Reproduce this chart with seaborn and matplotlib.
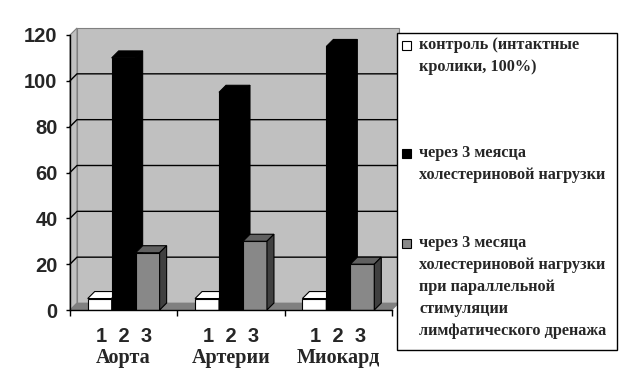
import matplotlib
matplotlib.use('Agg')
import matplotlib.pyplot as plt
from matplotlib.patches import Polygon, Rectangle
import seaborn as sns
import pandas as pd

# data
organs = ['Аорта', 'Артерии', 'Миокард']
series = [
    'контроль (интактные\nкролики, 100%)',
    'через 3 меясца\nхолестериновой нагрузки',
    'через 3 месяца\nхолестериновой нагрузки\nпри параллельной\nстимуляции\nлимфатического дренажа',
]
control = [5, 5, 5]
load_3m = [110, 95, 115]
load_stim = [25, 30, 20]
bar_nums = '1 2 3'
yticks = [0, 20, 40, 60, 80, 100, 120]

front_cols = ['#FFFFFF', '#000000', '#888888']
top_cols = ['#FFFFFF', '#000000', '#606060']
side_cols = ['#FFFFFF', '#000000', '#404040']

df = pd.DataFrame({
    'organ': organs * 3,
    'group': [series[0]] * 3 + [series[1]] * 3 + [series[2]] * 3,
    'value': control + load_3m + load_stim,
})

sns.set_theme(style='white')
plt.rcParams['font.family'] = ['Liberation Sans', 'DejaVu Sans']
serif = ['Liberation Serif', 'DejaVu Serif']

W, H = 620, 384
fig = plt.figure(figsize=(W / 100, H / 100), dpi=100)
ax = fig.add_axes([70 / W, 74 / H, 322 / W, 275 / H])
ax.set_facecolor('none')

sns.barplot(data=df, x='organ', y='value', hue='group', hue_order=series,
            palette=front_cols, width=0.67, gap=0, edgecolor='black',
            linewidth=0.8, saturation=1, legend=False, ax=ax)
ax.set_xlim(-0.5, 2.5)
ax.set_ylim(0, 120)

# depth of the 3d effect in data units (about 7 px)
px_x = ax.transData.transform((1, 0))[0] - ax.transData.transform((0, 0))[0]
px_y = ax.transData.transform((0, 1))[1] - ax.transData.transform((0, 0))[1]
dx, dy = 7 / px_x, 7 / px_y
bx, by = 7 / px_x, 7 / px_y
x0, x1 = ax.get_xlim()

# back wall, side wall, floor
ax.add_patch(Polygon([(x0 + dx, dy), (x1 + dx, dy), (x1 + dx, 120 + dy), (x0 + dx, 120 + dy)],
                     closed=True, fc='#C0C0C0', ec='#808080', lw=0.8, zorder=0, clip_on=False))
ax.add_patch(Polygon([(x0, 0), (x0 + dx, dy), (x0 + dx, 120 + dy), (x0, 120)],
                     closed=True, fc='#C0C0C0', ec='#808080', lw=0.8, zorder=0, clip_on=False))
ax.add_patch(Polygon([(x0, 0), (x1, 0), (x1 + dx, dy), (x0 + dx, dy)],
                     closed=True, fc='#808080', ec='#808080', lw=0.5, zorder=0.5, clip_on=False))
for t in yticks[1:-1]:
    ax.plot([x0, x0 + dx, x1 + dx], [t, t + dy, t + dy], color='black', lw=1,
            zorder=0.6, clip_on=False)

# bars: give each hue its own layer and add top/side faces
n = len(organs)
for i, p in enumerate(ax.patches[:3 * n]):
    k = i // n
    z = 3 + k
    p.set_zorder(z)
    xa, w, h = p.get_x(), p.get_width(), p.get_height()
    xb = xa + w
    ax.add_patch(Polygon([(xa, h), (xb, h), (xb + bx, h + by), (xa + bx, h + by)],
                         closed=True, fc=top_cols[k], ec='black', lw=0.8, zorder=z, clip_on=False))
    ax.add_patch(Polygon([(xb, 0), (xb + bx, by), (xb + bx, h + by), (xb, h)],
                         closed=True, fc=side_cols[k], ec='black', lw=0.8, zorder=z, clip_on=False))

# axes styling
for s in ['top', 'right']:
    ax.spines[s].set_visible(False)
for s in ['left', 'bottom']:
    ax.spines[s].set_color('black')
    ax.spines[s].set_linewidth(1)
    ax.spines[s].set_zorder(10)
ax.set_yticks(yticks)
ax.set_yticklabels([str(t) for t in yticks], fontsize=14.5, fontweight='bold')
ax.tick_params(axis='y', direction='out', length=3, width=1, color='black', pad=6, left=True)
ax.set_xticks(range(n))
ax.set_xticklabels([bar_nums.replace(' ', '  ')] * n, fontsize=14.5, fontweight='bold')
ax.tick_params(axis='x', which='major', length=0, pad=12)
ax.set_xticks([x0 + j for j in range(n + 1)], minor=True)
ax.tick_params(axis='x', which='minor', direction='out', length=4, width=1, color='black', bottom=True)
ax.set_xlabel('')
ax.set_ylabel('')
for j, org in enumerate(organs):
    ax.text(j, -0.175, org, transform=ax.get_xaxis_transform(), ha='center', va='center',
            fontsize=14.5, fontweight='bold', family=serif)

# legend box drawn by hand to keep the uneven spacing of the original
fig.patches.append(Rectangle((397 / W, 1 - 350 / H), 220 / W, 317 / H, transform=fig.transFigure,
                             fc='white', ec='black', lw=1, zorder=20))
legend_top = [45, 153, 243]
for k, lab in enumerate(series):
    yy = legend_top[k]
    fig.patches.append(Rectangle((402 / W, 1 - (yy + 4.5) / H), 9 / W, 9 / H,
                                 transform=fig.transFigure, fc=front_cols[k], ec='black',
                                 lw=0.8, zorder=21))
    for li, line in enumerate(lab.split('\n')):
        fig.text(419 / W, 1 - (yy + 22 * li) / H, line, ha='left', va='center',
                 fontsize=11.7, fontweight='bold', family=serif, zorder=22)

fig.savefig('out.png', dpi=100)
